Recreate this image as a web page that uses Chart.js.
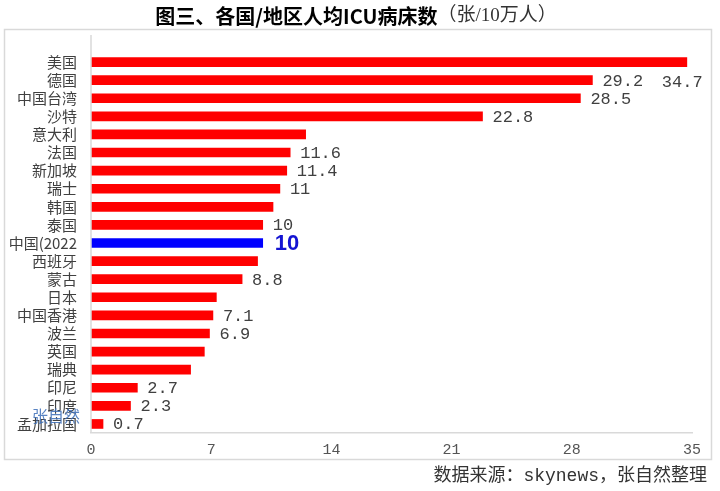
<!DOCTYPE html>
<html>
<head>
<meta charset="utf-8">
<script src="https://cdn.jsdelivr.net/npm/chart.js@4.4.1/dist/chart.umd.min.js"></script>
<style>
  html, body { margin: 0; padding: 0; background: #fff; }
  #wrap { width: 720px; height: 491px; position: relative; }
</style>
</head>
<body>
<div id="wrap"><canvas id="icuChart"></canvas></div>
<script>
const regions = [
  "美国", "德国", "中国台湾", "沙特", "意大利", "法国", "新加坡", "瑞士", "韩国", "泰国",
  "中国(2022", "西班牙", "蒙古", "日本", "中国香港", "波兰", "英国", "瑞典", "印尼", "印度", "孟加拉国",
];
const bedsPer100k = [
  34.7, 29.2, 28.5, 22.8, 12.5, 11.6, 11.4, 11, 10.6, 10,
  10, 9.7, 8.8, 7.3, 7.1, 6.9, 6.6, 5.8, 2.7, 2.3, 0.7,
];
// labels shown in the picture ("" = no label)
const valueLabels = [
  "34.7", "29.2", "28.5", "22.8", "", "11.6", "11.4", "11", "", "10",
  "10", "", "8.8", "", "7.1", "6.9", "", "", "2.7", "2.3", "0.7",
];
const xTicks = [0, 7, 14, 21, 28, 35];
const highlight = "中国(2022";

const titleBold = "图三、各国/地区人均ICU病床数";
const titleUnit = "（张/10万人）";
const sourceNote = "数据来源：skynews，张自然整理";
const watermark = "张自然";

const frame = {
  id: "frame",
  beforeDraw(chart) {
    const { ctx } = chart;
    ctx.save();
    ctx.fillStyle = "#fff";
    ctx.fillRect(0, 0, chart.width, chart.height);
    ctx.strokeStyle = "#d9d9d9";
    ctx.lineWidth = 1.5;
    ctx.strokeRect(4.5, 29.5, 707, 430);

    // title, bold part + unit part
    ctx.textBaseline = "middle";
    ctx.font = 'bold 20px "Noto Sans CJK SC"';
    const w1 = ctx.measureText(titleBold).width;
    ctx.font = '19px "Liberation Serif", "Noto Sans CJK SC"';
    const w2 = ctx.measureText(titleUnit).width;
    let x = 356 - (w1 + w2) / 2;
    ctx.fillStyle = "#000";
    ctx.font = 'bold 20px "Noto Sans CJK SC"';
    ctx.textAlign = "left";
    ctx.fillText(titleBold, x, 16);
    ctx.fillStyle = "#333";
    ctx.font = '19px "Liberation Serif", "Noto Sans CJK SC"';
    ctx.fillText(titleUnit, x + w1, 16);

    // source note
    ctx.textAlign = "right";
    ctx.fillStyle = "#333";
    ctx.font = '18px "Liberation Mono", "Noto Sans CJK SC"';
    ctx.fillText(sourceNote, 707, 476);
    ctx.restore();
  },
  afterDraw(chart) {
    const { ctx, chartArea } = chart;
    ctx.save();
    // category axis line runs above the first band
    ctx.strokeStyle = "#d9d9d9";
    ctx.lineWidth = 1.5;
    ctx.beginPath();
    ctx.moveTo(chartArea.left, 35);
    ctx.lineTo(chartArea.left, chartArea.bottom);
    ctx.stroke();

    ctx.fillStyle = "rgba(60, 110, 185, 0.85)";
    ctx.font = '16px "Noto Sans CJK SC"';
    ctx.textAlign = "left";
    ctx.textBaseline = "middle";
    ctx.fillText(watermark, 32, 416);
    ctx.restore();
  },
};

const barLabels = {
  id: "barLabels",
  afterDatasetsDraw(chart) {
    const { ctx } = chart;
    const bars = chart.getDatasetMeta(0).data;
    ctx.save();
    ctx.textAlign = "left";
    ctx.textBaseline = "middle";
    bars.forEach((bar, i) => {
      const text = valueLabels[i];
      if (!text) return;
      let x = bar.x + 10;
      let y = bar.y;
      if (regions[i] === highlight) {
        ctx.font = 'bold 22px "Liberation Sans"';
        ctx.fillStyle = "#1414d2";
        ctx.fillText(text, x + 2, y + 1);
        return;
      }
      if (i === 0) {
        // the top label sits one row lower, left of the bar end
        x = bar.x - 25;
        y = bars[1].y + 1;
      }
      ctx.font = '17px "Liberation Mono"';
      ctx.fillStyle = "#404040";
      ctx.fillText(text, x, y + 1);
    });
    ctx.restore();
  },
};

const config = {
  type: "bar",
  data: {
    labels: regions,
    datasets: [
      {
        data: bedsPer100k,
        backgroundColor: regions.map((r) => (r === highlight ? "#0000ff" : "#ff0000")),
        barThickness: 9,
        borderWidth: 0,
      },
    ],
  },
  options: {
    indexAxis: "y",
    responsive: false,
    animation: false,
    layout: { padding: { top: 53, right: 28, bottom: 32, left: 0 } },
    plugins: {
      legend: { display: false },
      tooltip: { enabled: false },
    },
    scales: {
      x: {
        min: 0,
        max: 35,
        afterBuildTicks(scale) {
          scale.ticks = xTicks.map((v) => ({ value: v }));
        },
        afterFit(scale) {
          scale.height = 26;
        },
        grid: { display: false, drawTicks: false },
        border: { display: true, color: "#d9d9d9", width: 1.5 },
        ticks: {
          padding: 8,
          color: "#555",
          font: { family: "Liberation Mono", size: 15 },
        },
      },
      y: {
        afterFit(scale) {
          scale.width = 91;
        },
        grid: { display: false, drawTicks: false },
        border: { display: false },
        ticks: {
          padding: 14,
          color: "#404040",
          autoSkip: false,
          font: { family: "Noto Sans CJK SC", size: 15 },
        },
      },
    },
  },
  plugins: [frame, barLabels],
};

const canvas = document.getElementById("icuChart");
canvas.width = 720;
canvas.height = 491;
new Chart(canvas.getContext("2d"), config);
</script>
</body>
</html>
